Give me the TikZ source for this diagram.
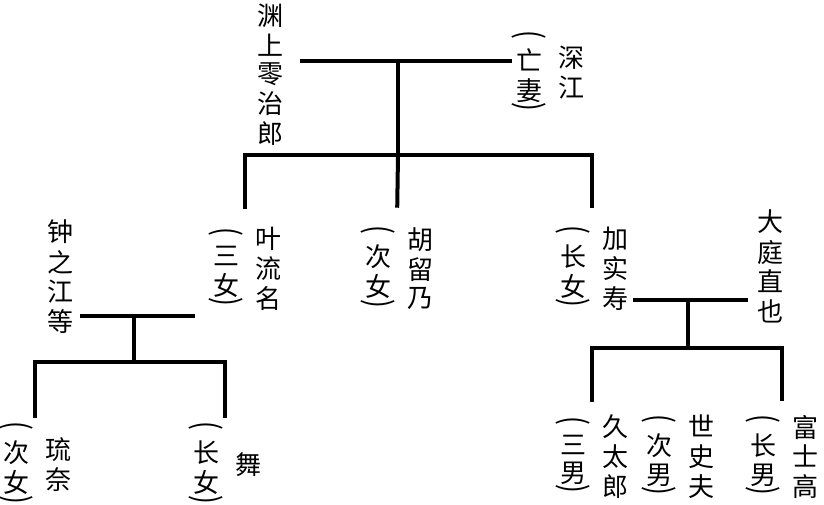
\documentclass[tikz,border=0pt]{standalone}
\usepackage{fontspec}
\usepackage{tikz}
\newfontfamily\cjk{Noto Sans CJK SC}
\newcommand{\vcol}[1]{\begin{tabular}[c]{@{}c@{}}#1\end{tabular}}
\newcommand{\lp}{\rotatebox[origin=c]{-90}{\scalebox{1}[1.3]{(}}}
\newcommand{\rp}{\rotatebox[origin=c]{-90}{\scalebox{1}[1.3]{)}}}
\newcommand{\person}[2]{\vcol{\lp\\[-4pt]#1\\[-10pt]\rp}\hspace{12pt}\vcol{#2}}

\begin{document}
\begin{tikzpicture}[x=1pt,y=-1pt]
\tikzstyle{every node}=[inner sep=0pt,font=\cjk\fontsize{26}{27}\selectfont];
\tikzstyle{line}=[line width=4pt];
\useasboundingbox (0,0) rectangle (824,505);
% parents
\node (reijiro) at (270,78) {\vcol{渊\\上\\零\\治\\郎}};
\node (fukae) at (548,76) {\person{亡\\妻}{深\\江}};
% daughters
\node (rune) at (245,272) {\person{三\\女}{叶\\流\\名}};
\node (kuruno) at (397,272) {\person{次\\女}{胡\\留\\乃}};
\node (kazue) at (592,272) {\person{长\\女}{加\\实\\寿}};
\node (shouzou) at (60,280) {\vcol{钟\\之\\江\\等}};
\node (naoya) at (770,270) {\vcol{大\\庭\\直\\也}};
% grandchildren
\node (runa) at (35,468) {\person{次\\女}{琉\\奈}};
\node (mai) at (225,468) {\person{长\\女}{舞}};
\node (kyutaro) at (592,460) {\person{三\\男}{久\\太\\郎}};
\node (shifu) at (678,460) {\person{次\\男}{世\\史\\夫}};
\node (fujitaka) at (782,460) {\person{长\\男}{富\\士\\高}};
% junctions
\coordinate (m1a) at (300,61); \coordinate (m1) at (398,61); \coordinate (m1b) at (512,61);
\coordinate (k1) at (398,155);
\coordinate (m2a) at (80,316); \coordinate (m2) at (134,316); \coordinate (m2b) at (195,316);
\coordinate (k2) at (134,362);
\coordinate (m3a) at (633,300); \coordinate (m3) at (688,300); \coordinate (m3b) at (748,300);
\coordinate (k3) at (688,348);
% lines
\draw[line] (m1a) -- (m1b);
\draw[line] (m1) -- (k1);
\draw[line,shorten >=14pt] (k1) -| (rune.north);
\draw[line,shorten >=14pt] (k1) -- (kuruno.north);
\draw[line,shorten >=14pt] (k1) -| (kazue.north);
\draw[line] (m2a) -- (m2b);
\draw[line] (m2) -- (k2);
\draw[line] (k2) -| (runa.north);
\draw[line] (k2) -| (mai.north);
\draw[line] (m3a) -- (m3b);
\draw[line] (m3) -- (k3);
\draw[line,shorten >=10pt] (k3) -| (kyutaro.north);
\draw[line,shorten >=10pt] (k3) -| (fujitaka.north);
\end{tikzpicture}
\end{document}
